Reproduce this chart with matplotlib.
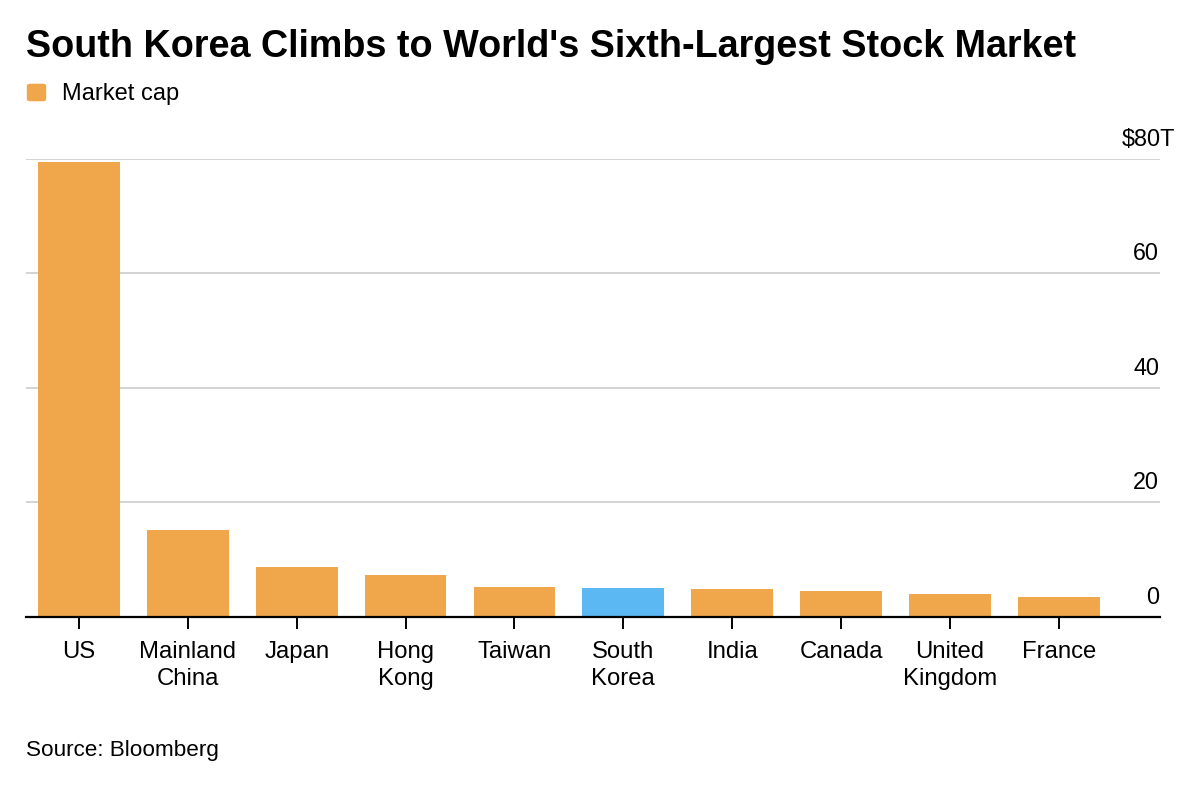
import matplotlib
matplotlib.use("Agg")
import matplotlib.pyplot as plt
import matplotlib.transforms as mtransforms
from matplotlib.patches import FancyBboxPatch

countries = ["US", "Mainland\nChina", "Japan", "Hong\nKong", "Taiwan", "South\nKorea",
             "India", "Canada", "United\nKingdom", "France"]
market_cap = [79.4, 15.1, 8.6, 7.2, 5.15, 5.0, 4.8, 4.5, 3.9, 3.4]
highlight = "South\nKorea"
y_ticks = [0, 20, 40, 60, 80]
y_tick_labels = ["0", "20", "40", "60", "$80T"]

ORANGE = "#F0A64B"
BLUE = "#5CB8F2"
FONT = ["Liberation Sans", "DejaVu Sans"]
plt.rcParams["font.family"] = FONT

W, H = 1200, 787
fig = plt.figure(figsize=(W / 100, H / 100), dpi=100)
fig.patch.set_facecolor("white")

left, right = 26 / W, 1160 / W
bottom, top = 1 - 616.7 / H, 1 - 158.7 / H
ax = fig.add_axes([left, bottom, right - left, top - bottom])

colors = [BLUE if c == highlight else ORANGE for c in countries]
x = list(range(len(countries)))
ax.bar(x, market_cap, width=0.75, color=colors, zorder=3)

ax.set_xlim(-0.487, 9.93)
ax.set_ylim(0, 80)

for s in ["top", "right", "left"]:
    ax.spines[s].set_visible(False)
ax.spines["bottom"].set_color("black")
ax.spines["bottom"].set_linewidth(1.6)
ax.spines["bottom"].set_zorder(4)

for yv in y_ticks[1:]:
    ax.axhline(yv, color="#cccccc", lw=1.2, zorder=1)

ax.set_yticks([])
ax.set_xticks(x)
ax.set_xticklabels(countries, fontsize=17.2, linespacing=1.27)
ax.tick_params(axis="x", length=8.5, width=1.4, color="black", pad=9, direction="out")

# right-side value labels above gridlines
trans = mtransforms.blended_transform_factory(fig.transFigure, ax.transData)
off = mtransforms.offset_copy(trans, fig=fig, x=0, y=13, units="dots")
for yv, lab in zip(y_ticks, y_tick_labels):
    xr = 1175 if lab.endswith("T") else 1159
    ax.text(xr / W, yv, lab, transform=off, ha="right", va="baseline",
            fontsize=16.8, color="black", clip_on=False)

# title
fig.text(26 / W, 1 - 56.7 / H, "South Korea Climbs to World's Sixth-Largest Stock Market",
         fontsize=27.2, fontweight="bold", ha="left", va="baseline", color="black")

# legend
sq = FancyBboxPatch((28 / W, 1 - 100.5 / H), 17 / W, 16 / H,
                    boxstyle="round,pad=0.001,rounding_size=0.003",
                    transform=fig.transFigure, facecolor=ORANGE, edgecolor="none")
fig.patches.append(sq)
fig.text(62 / W, 1 - 100 / H, "Market cap", fontsize=17, ha="left", va="baseline")

# source
fig.text(26 / W, 1 - 756 / H, "Source: Bloomberg", fontsize=16.2, ha="left", va="baseline")

fig.savefig("out.png", dpi=100, facecolor="white")
